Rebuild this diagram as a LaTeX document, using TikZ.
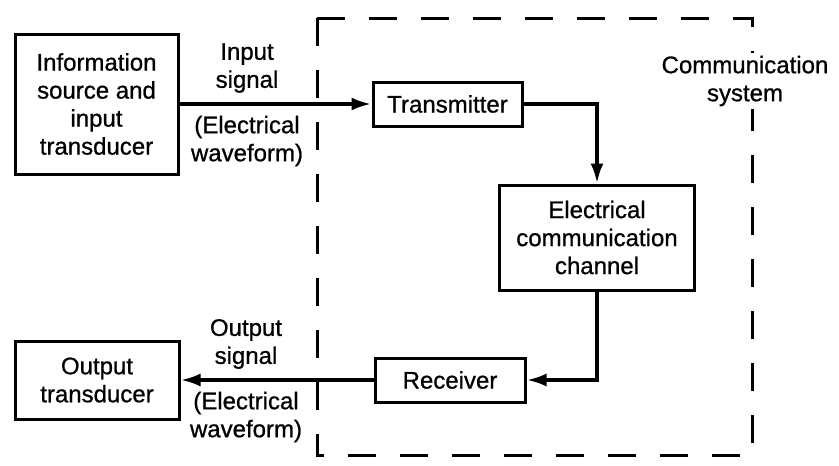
\documentclass[tikz,border=0pt]{standalone}
\usepackage{fontspec}
\setmainfont{Liberation Sans}[FakeBold=0.8]
\usetikzlibrary{arrows.meta}
\tikzset{
  blk/.style={draw, line width=3pt, align=center, inner sep=0pt, font=\fontsize{24}{28}\selectfont},
  lbl/.style={align=center, inner sep=0pt, font=\fontsize{24}{28}\selectfont},
  arr/.style={line width=3.6pt, -{Latex[length=20pt,width=13pt]}},
  sysbox/.style={line width=3pt, dash pattern=on 28pt off 24pt},
}
\begin{document}
\begin{tikzpicture}[x=1pt,y=-1pt]
\useasboundingbox[fill=white] (0,0) rectangle (839,466);
% dashed system boundary
\draw[sysbox] (317,18) rectangle (752,455);
\node[lbl, fill=white, inner sep=3pt] (sys) at (745,81) {Communication\\system};
% blocks
\node[blk, minimum width=163pt, minimum height=140pt] (info) at (96.5,104) {Information\\source and\\input\\transducer};
\node[blk, minimum width=149pt, minimum height=44pt] (tx) at (447.5,104) {Transmitter};
\node[blk, minimum width=195pt, minimum height=105pt] (ch) at (597,237.5) {Electrical\\communication\\channel};
\node[blk, minimum width=150pt, minimum height=44pt] (rx) at (450,380) {Receiver};
\node[blk, minimum width=164pt, minimum height=78pt] (out) at (97,380) {Output\\transducer};
% labels
\node[lbl] (insig) at (247,68) {Input\\signal};
\node[lbl] (inwave) at (247,141) {(Electrical\\waveform)};
\node[lbl] (outsig) at (246,344) {Output\\signal};
\node[lbl] (outwave) at (246,417) {(Electrical\\waveform)};
% connectors
\draw[arr] (info) -- (tx);
\draw[arr] (tx.east) -| (ch.north);
\draw[arr] (ch.south) |- (rx.east);
\draw[arr] (rx) -- (out);
\end{tikzpicture}
\end{document}
